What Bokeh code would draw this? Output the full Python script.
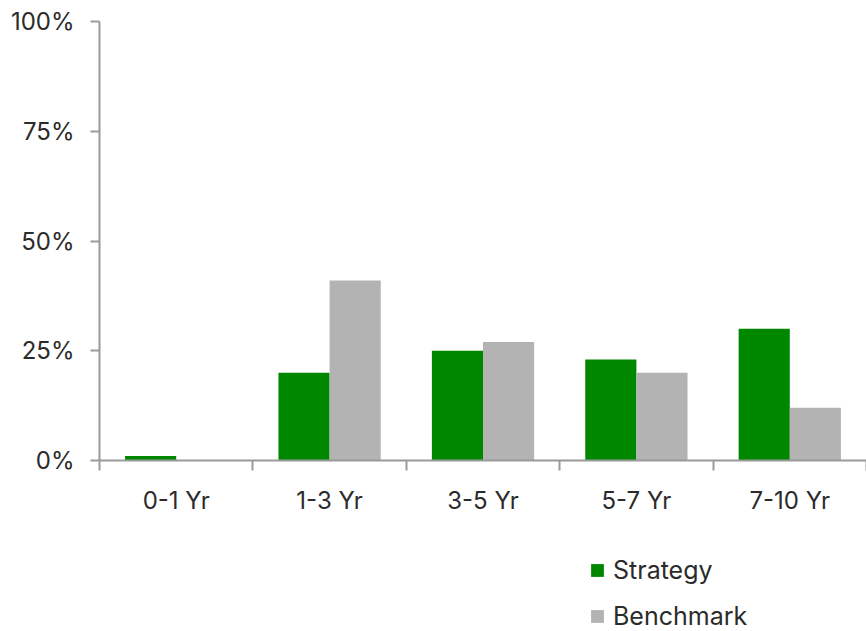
import numpy as np
from bokeh.plotting import figure
from bokeh.layouts import column
from bokeh.models import (ColumnDataSource, Range1d, FixedTicker, NumeralTickFormatter,
                          Legend, LegendItem)
from bokeh.embed import file_html
from bokeh.resources import INLINE

categories = ["0-1 Yr", "1-3 Yr", "3-5 Yr", "5-7 Yr", "7-10 Yr"]
strategy = [1, 20, 25, 23, 30]
benchmark = [0, 41, 27, 20, 12]
y_ticks = [0, 25, 50, 75, 100]
series_names = ["Strategy", "Benchmark"]

GREEN = "#008700"
GREY = "#b3b3b3"
AXIS = "#9a9a9a"
TEXT = "#2b2b2b"
FONT = "Inter"

centers = np.arange(len(categories)) + 0.5
bw = 1.0 / 3.0
src = ColumnDataSource(dict(
    xs=centers - bw / 2, xb=centers + bw / 2,
    s=np.array(strategy) / 100.0, b=np.array(benchmark) / 100.0))

p = figure(width=866, height=535, output_backend="svg", toolbar_location=None,
           x_range=Range1d(0, len(categories)), y_range=Range1d(0, 1),
           min_border_left=99, min_border_top=21, min_border_bottom=75, min_border_right=0)
p.outline_line_color = None
p.grid.visible = False

p.vbar(x="xs", top="s", width=bw, source=src, fill_color=GREEN, line_color=None)
p.vbar(x="xb", top="b", width=bw, source=src, fill_color=GREY, line_color=None)

xa = p.xaxis[0]
xa.ticker = FixedTicker(ticks=list(centers), minor_ticks=list(range(len(categories) + 1)))
xa.major_label_overrides = {float(c): lab for c, lab in zip(centers, categories)}
xa.major_tick_out = 0
xa.major_tick_in = 0
xa.minor_tick_out = 10
xa.minor_tick_in = 0
xa.minor_tick_line_color = AXIS
xa.minor_tick_line_width = 2
xa.axis_line_color = AXIS
xa.axis_line_width = 2
xa.major_label_text_font = FONT
xa.major_label_text_font_size = "24px"
xa.major_label_text_color = TEXT
xa.major_label_standoff = 15

ya = p.yaxis[0]
ya.ticker = FixedTicker(ticks=[t / 100 for t in y_ticks])
ya.formatter = NumeralTickFormatter(format="0%")
ya.major_tick_out = 9
ya.major_tick_in = 0
ya.minor_tick_out = 0
ya.minor_tick_in = 0
ya.major_tick_line_color = AXIS
ya.major_tick_line_width = 2
ya.axis_line_color = AXIS
ya.axis_line_width = 2
ya.major_label_text_font = FONT
ya.major_label_text_font_size = "24px"
ya.major_label_text_color = TEXT
ya.major_label_standoff = 16

# legend panel below
p2 = figure(width=866, height=96, output_backend="svg", toolbar_location=None,
            x_range=Range1d(0, 1), y_range=Range1d(0, 1),
            min_border_left=0, min_border_top=0, min_border_bottom=0, min_border_right=0)
p2.axis.visible = False
p2.grid.visible = False
p2.outline_line_color = None
dummy = ColumnDataSource(dict(x=[5.0], top=[5.0]))
g1 = p2.vbar(x="x", top="top", width=0.1, source=dummy, fill_color=GREEN, line_color=None)
g2 = p2.vbar(x="x", top="top", width=0.1, source=dummy, fill_color=GREY, line_color=None)
legend = Legend(items=[LegendItem(label=series_names[0], renderers=[g1]),
                       LegendItem(label=series_names[1], renderers=[g2])],
                location=(490, 0), orientation="vertical",
                label_text_font=FONT, label_text_font_size="25px", label_text_color=TEXT,
                glyph_width=16, glyph_height=16, label_height=26, label_standoff=8, spacing=16,
                background_fill_alpha=0, border_line_color=None, padding=0, margin=0)
p2.add_layout(legend, "center")

open("out.html", "w").write(file_html(column(p, p2, spacing=0), INLINE))
